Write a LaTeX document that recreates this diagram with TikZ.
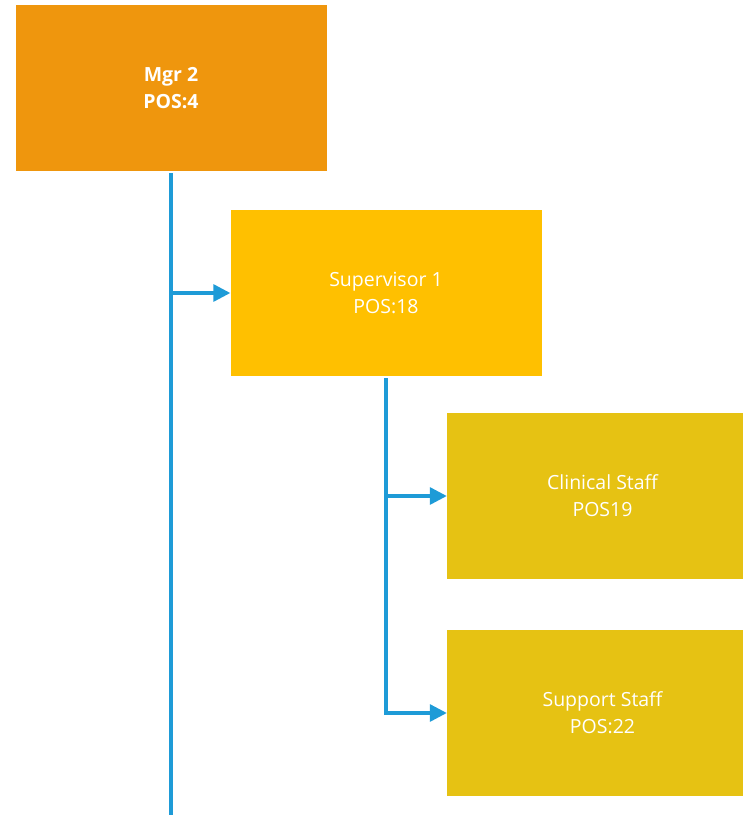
\documentclass[tikz,border=0pt]{standalone}
\usepackage{fontspec}
\setmainfont{Open Sans}
\usetikzlibrary{arrows.meta,positioning}

\definecolor{mgrorange}{HTML}{EF960D}
\definecolor{supyellow}{HTML}{FFC000}
\definecolor{staffgold}{HTML}{E6C213}
\definecolor{linkblue}{HTML}{1E9BD7}

\begin{document}
\begin{tikzpicture}[x=1pt,y=1pt]  % 1 unit = 1 pixel of the chart

    % Common styles
    \tikzset{
        posbox/.style={rectangle, minimum width=311, minimum height=166, inner sep=0,
                       text=white, align=center, font=\fontsize{19.5}{27}\selectfont},
        mgrbox/.style={posbox, fill=mgrorange, font=\fontsize{19.5}{27}\selectfont\bfseries},
        supbox/.style={posbox, fill=supyellow},
        staffbox/.style={posbox, fill=staffgold},
        link/.style={draw=linkblue, line width=3.2pt},
        linkarrow/.style={link, -{Triangle[length=17pt,width=17pt]}}
    }

    % Page size 743 x 815, boxes running off the right edge are cut
    \useasboundingbox (0,0) rectangle (743,-815);
    \clip (0,0) rectangle (743,-815);

    % Boxes
    \node[mgrbox]   (mgr)  at (171,-88)    {Mgr 2\\POS:4};
    \node[supbox]   (sup)  at (386,-293)   {Supervisor 1\\POS:18};
    \node[staffbox] (clin) at (602.5,-496) {Clinical Staff\\POS19};
    \node[staffbox] (supp) at (602.5,-713) {Support Staff\\POS:22};

    % Free ends of the long line
    \coordinate (mgrend) at (mgr.south |- 0,-815);
    \coordinate (supend) at (sup.south |- supp.west);

    % Manager line
    \draw[link] ([yshift=-2]mgr.south) -- (mgrend);
    \draw[linkarrow] (mgr.south |- sup.west) -- (sup.west);

    % Supervisor line
    \draw[link] ([yshift=-2]sup.south) -- (supend);
    \draw[linkarrow] (sup.south |- clin.west) -- (clin.west);
    \draw[linkarrow] ([xshift=-1.6]supend) -- (supp.west);

\end{tikzpicture}
\end{document}
